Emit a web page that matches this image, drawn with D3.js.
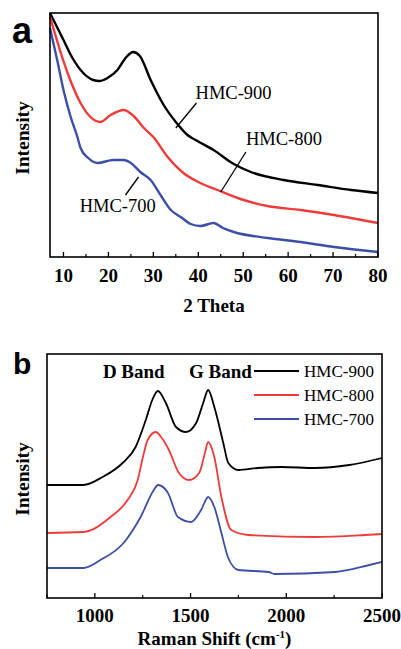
<!DOCTYPE html>
<html>
<head>
<meta charset="utf-8">
<script src="https://cdn.jsdelivr.net/npm/d3@7"></script>
<style>
  body { margin: 0; background: #fff; }
  svg { display: block; }
</style>
</head>
<body>
<div id="chart"></div>
<script>
// XRD patterns (2 theta, intensity a.u.)
const xrd900 = [[7,244],[8,235],[10,217],[12,199],[14.4,184],[16.6,177],[18,176],[19.8,179],[22,187],[24,200],[25.5,205],[27,201],[29.4,177],[32.3,152],[35,135],[37.6,122],[39,118],[43.4,107],[47.9,93],[51.7,85],[59,77],[66.6,72],[74,67],[80,64]];
const xrd800 = [[7,240],[8,225],[9.2,207],[11.5,177],[13.8,154],[16,140],[18.2,135],[20.5,142],[23.4,147],[25.6,141],[27.9,129],[30,120],[33.2,100],[36.7,84],[40,75],[44.3,67],[50.1,57],[55.4,51],[62.8,47],[70.2,42],[80,34]];
const xrd700 = [[7,229],[8.6,197],[10,167],[11.6,140],[13.1,120],[13.8,109],[15.5,99],[17.6,94],[21.1,97],[23.4,97],[25,94],[27.1,85],[29.4,77],[31.6,62],[33.9,47],[36.1,40],[38.3,33],[40.5,31],[43.4,34],[45.5,29],[47.9,25],[55.5,19],[62.8,15],[70.2,10],[80,5]];

// Raman spectra (shift cm-1, intensity a.u.)
const raman900 = [[750,113],[940,113],[1040,121],[1145,135],[1213,151],[1266,178],[1300,198],[1329,207],[1371,195],[1424,171],[1476,166],[1529,175],[1566,195],[1592,208],[1624,191],[1671,155],[1697,135],[1750,128],[1850,130],[1976,131],[2150,130],[2329,133],[2500,140]];
const raman800 = [[750,65],[940,66],[1082,81],[1171,98],[1224,118],[1250,140],[1276,158],[1318,166],[1350,160],[1387,148],[1439,125],[1492,118],[1545,125],[1575,145],[1592,156],[1610,150],[1624,141],[1661,101],[1713,68],[1803,63],[2150,61],[2413,63],[2500,64]];
const raman700 = [[750,30],[940,30],[1029,38],[1150,55],[1239,81],[1308,108],[1330,113],[1382,105],[1434,81],[1503,76],[1555,88],[1592,101],[1624,91],[1661,65],[1697,40],[1750,28],[1908,26],[1939,24],[2255,26],[2434,33],[2500,36]];

const seriesNames = ['HMC-900', 'HMC-800', 'HMC-700'];
const seriesColors = ['#000000', '#ef3a3a', '#3b4fa6'];

const xrdTicks = [10, 20, 30, 40, 50, 60, 70, 80];
const xrdMinor = [15, 25, 35, 45, 55, 65, 75];
const ramanTicks = [1000, 1500, 2000, 2500];
const ramanMinor = [750, 1250, 1750, 2250];

// label anchors in data units: [text, text x, text y, line x1, y1, x2, y2]
const xrdNotes = [
    ['HMC-900', 39.4, 158, 39.6, 154, 35.0, 129],
    ['HMC-800', 50.6, 112, 50.6, 105, 45.0, 65],
    ['HMC-700', 13.6, 45, 23.8, 62, 26.7, 80]
];
// band labels: [text, shift where the text starts]
const bandNotes = [['D Band', 1042], ['G Band', 1492]];

const width = 401, height = 649;
const serif = '"Liberation Serif", "Times New Roman", serif';
const sans = '"Liberation Sans", Arial, sans-serif';

const svg = d3.select('#chart').append('svg')
    .attr('width', width)
    .attr('height', height);

function drawPanel(opts) {
    const { x, y, data, ticks, minor, title, letter, letterPos, lineWidth, titleY, tickY } = opts;
    const g = svg.append('g');
    const [x0, x1] = x.range();
    const [y0, y1] = y.range();

    const line = d3.line()
        .x(d => x(d[0]))
        .y(d => y(d[1]))
        .curve(d3.curveMonotoneX);

    data.forEach((s, i) => {
        g.append('path')
            .datum(s)
            .attr('fill', 'none')
            .attr('stroke', seriesColors[i])
            .attr('stroke-width', lineWidth)
            .attr('stroke-linejoin', 'round')
            .attr('d', line);
    });

    // bottom axis, ticks pointing inward
    g.selectAll('line.major').data(ticks).enter().append('line')
        .attr('class', 'major')
        .attr('x1', d => x(d)).attr('x2', d => x(d))
        .attr('y1', y0).attr('y2', y0 - 5)
        .attr('stroke', '#000').attr('stroke-width', 1.3);
    g.selectAll('line.minor').data(minor).enter().append('line')
        .attr('class', 'minor')
        .attr('x1', d => x(d)).attr('x2', d => x(d))
        .attr('y1', y0).attr('y2', y0 - 3)
        .attr('stroke', '#000').attr('stroke-width', 1.2);
    g.selectAll('text.tick').data(ticks).enter().append('text')
        .attr('class', 'tick')
        .attr('x', d => x(d))
        .attr('y', tickY)
        .attr('text-anchor', 'middle')
        .attr('font-family', serif)
        .attr('font-weight', 'bold')
        .attr('font-size', '19px')
        .text(d => d);

    // frame
    g.append('rect')
        .attr('x', x0).attr('y', y1)
        .attr('width', x1 - x0).attr('height', y0 - y1)
        .attr('fill', 'none')
        .attr('stroke', '#000')
        .attr('stroke-width', 1.6);

    const xt = g.append('text')
        .attr('x', (x0 + x1) / 2)
        .attr('y', titleY)
        .attr('text-anchor', 'middle')
        .attr('font-family', serif)
        .attr('font-weight', 'bold')
        .attr('font-size', '19px');
    title(xt);

    g.append('text')
        .attr('transform', `translate(29,${(y0 + y1) / 2 + 3}) rotate(-90)`)
        .attr('text-anchor', 'middle')
        .attr('font-family', serif)
        .attr('font-weight', 'bold')
        .attr('font-size', '19.5px')
        .text('Intensity');

    g.append('text')
        .attr('x', letterPos[0])
        .attr('y', letterPos[1])
        .attr('font-family', sans)
        .attr('font-weight', 'bold')
        .attr('font-size', letterPos[2] + 'px')
        .text(letter);

    return g;
}

// ---- panel a ----
const xA = d3.scaleLinear().domain([7, 80]).range([50, 378]);
const yA = d3.scaleLinear().domain([0, 244]).range([257, 13]);
const gA = drawPanel({
    x: xA, y: yA,
    data: [xrd900, xrd800, xrd700],
    ticks: xrdTicks, minor: xrdMinor,
    lineWidth: 2.4,
    tickY: 282, titleY: 312,
    title: t => t.text('2 Theta'),
    letter: 'a', letterPos: [12, 43, 36]
});

xrdNotes.forEach(n => {
    gA.append('line')
        .attr('x1', xA(n[3])).attr('y1', yA(n[4]))
        .attr('x2', xA(n[5])).attr('y2', yA(n[6]))
        .attr('stroke', '#000').attr('stroke-width', 1.3);
    gA.append('text')
        .attr('x', xA(n[1])).attr('y', yA(n[2]))
        .attr('font-family', serif)
        .attr('font-size', '18.5px')
        .text(n[0]);
});

// ---- panel b ----
const xB = d3.scaleLinear().domain([750, 2500]).range([47, 382]);
const yB = d3.scaleLinear().domain([0, 244]).range([598, 354]);
const gB = drawPanel({
    x: xB, y: yB,
    data: [raman900, raman800, raman700],
    ticks: ramanTicks, minor: ramanMinor,
    lineWidth: 1.8,
    tickY: 622, titleY: 645,
    title: t => {
        t.append('tspan').text('Raman Shift (cm');
        t.append('tspan').attr('font-size', '11px').attr('dy', -7).text('-1');
        t.append('tspan').attr('dy', 7).text(')');
    },
    letter: 'b', letterPos: [13, 374, 30]
});

bandNotes.forEach(b => {
    gB.append('text')
        .attr('x', xB(b[1]))
        .attr('y', 378)
        .attr('font-family', serif)
        .attr('font-weight', 'bold')
        .attr('font-size', '19px')
        .text(b[0]);
});

// legend
const legend = gB.append('g').attr('transform', 'translate(254,371)');
seriesNames.forEach((name, i) => {
    const row = legend.append('g').attr('transform', `translate(0,${i * 24})`);
    row.append('line')
        .attr('x1', 0).attr('x2', 45)
        .attr('stroke', seriesColors[i])
        .attr('stroke-width', 2);
    row.append('text')
        .attr('x', 50).attr('y', 6)
        .attr('font-family', serif)
        .attr('font-size', '17px')
        .text(name);
});
</script>
</body>
</html>
